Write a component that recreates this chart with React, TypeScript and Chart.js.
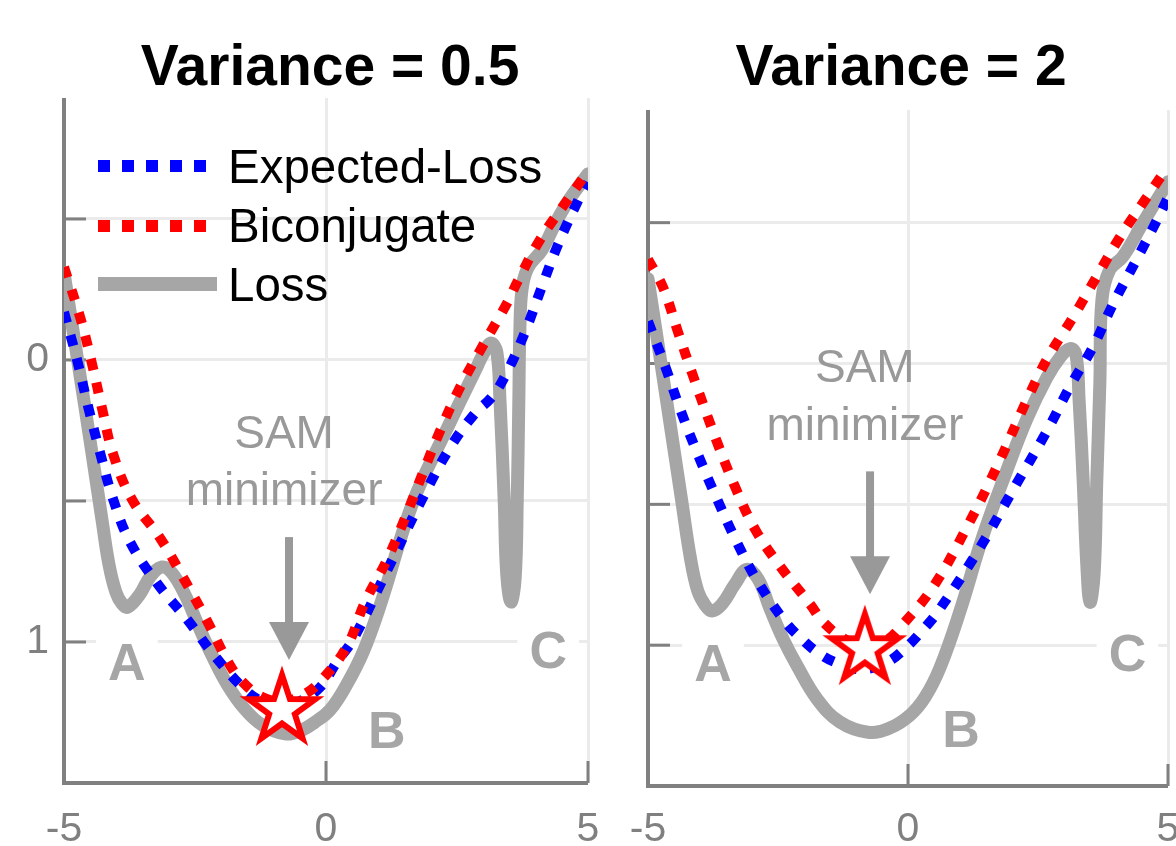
import React, { useEffect, useRef } from 'react';
import { Chart, registerables } from 'chart.js';

Chart.register(...registerables);

const FONT = '"Liberation Sans", Arial, Helvetica, sans-serif';
Chart.defaults.font.family = FONT;

// ---------- data ----------
const titles = ['Variance = 0.5', 'Variance = 2'];
const legendLabels = ['Expected-Loss', 'Biconjugate', 'Loss'];
const xTicks = [-5, 0, 5];
const xTickLabels = ['-5', '0', '5'];
const yTicks = [-0.5, 0, 0.5, 1];
const yTickLabels = ['', '0', '', '1'];
const regionLabels = ['A', 'B', 'C'];

// Variance = 0.5 panel
const lossX_a = [-5.0, -4.74, -4.475, -4.275, -4.14, -4.01, -3.89, -3.78, -3.55, -3.36, -3.13, -2.94, -2.69, -2.44, -2.18, -1.89, -1.55, -1.22, -0.78, -0.5, -0.21, 0.076, 0.38, 0.71, 1.03, 1.66, 2.27, 2.88, 3.02, 3.15, 3.26, 3.32, 3.4, 3.45, 3.53, 3.61, 3.65, 3.68, 3.7, 3.74, 3.85, 4.12, 4.41, 4.66, 5.0];
const lossY_a = [-0.309, 0.0, 0.319, 0.567, 0.727, 0.823, 0.865, 0.876, 0.83, 0.77, 0.734, 0.755, 0.833, 0.94, 1.046, 1.149, 1.238, 1.294, 1.326, 1.316, 1.284, 1.241, 1.156, 1.035, 0.872, 0.504, 0.259, 0.025, -0.028, -0.06, -0.028, 0.142, 0.496, 0.762, 0.858, 0.773, 0.496, 0.142, -0.106, -0.248, -0.326, -0.39, -0.496, -0.574, -0.66];
const expX_a = [-5.0, -4.75, -4.54, -4.31, -4.06, -3.74, -3.23, -2.65, -2.12, -1.51, -1.16, -0.84, -0.5, -0.11, 0.21, 0.52, 1.13, 1.83, 2.37, 2.84, 3.17, 3.45, 3.8, 4.12, 4.43, 4.81, 5.0];
const expY_a = [-0.17, 0.0, 0.165, 0.33, 0.495, 0.645, 0.79, 0.92, 1.05, 1.175, 1.215, 1.23, 1.21, 1.16, 1.07, 0.99, 0.76, 0.495, 0.31, 0.19, 0.13, 0.045, -0.1, -0.26, -0.41, -0.565, -0.63];
const biX_a = [-5.0, -4.69, -4.47, -4.27, -4.06, -3.7, -3.17, -2.73, -2.27, -1.87, -1.6, -1.22, -0.84, -0.46, -0.11, 0.4, 0.74, 1.16, 1.51, 1.85, 2.18, 2.56, 3.0, 3.45, 3.66, 4.08, 4.6, 5.0];
const biY_a = [-0.33, -0.15, 0.01, 0.175, 0.335, 0.495, 0.63, 0.77, 0.925, 1.07, 1.14, 1.195, 1.21, 1.19, 1.14, 1.015, 0.86, 0.71, 0.56, 0.4, 0.25, 0.096, -0.053, -0.2, -0.28, -0.425, -0.565, -0.67];

// Variance = 2 panel
const lossX_b = [-5.0, -4.75, -4.55, -4.356, -4.18, -4.04, -3.9, -3.77, -3.58, -3.33, -3.1, -2.88, -2.65, -2.4, -2.13, -1.75, -1.31, -0.77, -0.35, 0.04, 0.33, 0.62, 1.0, 1.44, 1.87, 2.29, 2.67, 2.92, 3.12, 3.23, 3.29, 3.37, 3.44, 3.5, 3.58, 3.63, 3.69, 3.73, 3.88, 4.13, 4.52, 5.0];
const lossY_b = [-0.301, 0.0, 0.245, 0.482, 0.695, 0.809, 0.858, 0.879, 0.855, 0.784, 0.731, 0.766, 0.872, 0.979, 1.074, 1.191, 1.273, 1.309, 1.294, 1.248, 1.184, 1.078, 0.879, 0.613, 0.394, 0.195, 0.05, -0.021, -0.053, -0.032, 0.128, 0.422, 0.72, 0.848, 0.745, 0.422, 0.067, -0.227, -0.333, -0.379, -0.5, -0.645];
const expX_b = [-5.0, -4.67, -4.38, -4.04, -3.67, -3.29, -2.88, -2.37, -2.04, -1.69, -1.31, -0.87, -0.4, -0.02, 0.29, 0.56, 1.33, 2.0, 2.67, 3.12, 3.56, 3.94, 4.37, 4.79, 5.0];
const expY_b = [-0.15, 0.01, 0.163, 0.323, 0.482, 0.635, 0.777, 0.915, 0.979, 1.032, 1.067, 1.085, 1.06, 1.005, 0.945, 0.885, 0.67, 0.455, 0.24, 0.08, -0.06, -0.21, -0.36, -0.51, -0.59];
const biX_b = [-5.0, -4.71, -4.42, -4.13, -3.67, -3.33, -2.94, -2.46, -1.88, -1.63, -1.21, -0.83, -0.44, -0.1, 0.48, 1.13, 1.73, 2.29, 2.69, 3.17, 3.63, 4.08, 4.6, 5.0];
const biY_b = [-0.37, -0.27, -0.11, 0.046, 0.28, 0.436, 0.589, 0.72, 0.855, 0.918, 0.979, 1.004, 0.986, 0.926, 0.794, 0.582, 0.358, 0.128, -0.021, -0.163, -0.309, -0.45, -0.592, -0.7];

// annotations (data coordinates), one entry per panel
const starX = [-0.84, -0.83];
const starY = [1.241, 1.014];
const arrowX = [-0.706, -0.73];
const arrowTopY = [0.628, 0.383];
const arrowTipY = [1.064, 0.819];
const samX = [-0.8, -0.83];
const samY = [0.312, 0.067];
const minimizerY = [0.514, 0.27];
const regionX_a = [-3.8, 1.16, 4.24];
const regionY_a = [1.135, 1.376, 1.092];
const regionX_b = [-3.75, 1.02, 4.22];
const regionY_b = [1.128, 1.362, 1.092];
const yMin = [-0.929, -0.9];
const yMax = 1.5;

// ---------- styles ----------
const BLUE = '#0000ff';
const RED = '#ff0000';
const LOSS = '#a6a6a6';
const GRID = '#ebebeb';
const AXIS = '#808080';
const ANNOT = '#999999';
const REGION = '#a6a6a6';

const pts = (xs: number[], ys: number[]) => xs.map((x, i) => ({ x, y: ys[i] }));

function makeStar(): HTMLCanvasElement {
  const c = document.createElement('canvas');
  c.width = 110;
  c.height = 110;
  const g = c.getContext('2d')!;
  const R = 35;
  const r = 13.5;
  g.beginPath();
  for (let i = 0; i < 10; i++) {
    const ang = -Math.PI / 2 + (i * Math.PI) / 5;
    const rad = i % 2 === 0 ? R : r;
    const px = 55 + rad * Math.cos(ang);
    const py = 55 + rad * Math.sin(ang);
    if (i === 0) g.moveTo(px, py);
    else g.lineTo(px, py);
  }
  g.closePath();
  g.fillStyle = '#ffffff';
  g.fill();
  g.lineWidth = 6;
  g.lineJoin = 'miter';
  g.miterLimit = 10;
  g.strokeStyle = RED;
  g.stroke();
  return c;
}

interface PanelSpec {
  idx: number;
  loss: { x: number; y: number }[];
  exp: { x: number; y: number }[];
  bi: { x: number; y: number }[];
  regionX: number[];
  regionY: number[];
  yAxisWidth: number;
  xAxisHeight: number;
  padRight: number;
  padTop: number;
  xLabelPad: number;
  showYLabels: boolean;
  titleX: number;
  showLegend: boolean;
}

function decorPlugin(p: PanelSpec) {
  return {
    id: 'decor' + p.idx,
    beforeDatasetsDraw(chart: any) {
      const { ctx, chartArea: a } = chart;
      const xs = chart.scales.x;
      const ys = chart.scales.y;
      ctx.save();
      ctx.strokeStyle = AXIS;
      ctx.lineWidth = 4;
      ctx.lineJoin = 'miter';
      ctx.beginPath();
      ctx.moveTo(a.left, a.top);
      ctx.lineTo(a.left, a.bottom);
      ctx.lineTo(a.right, a.bottom);
      ctx.stroke();
      ctx.lineWidth = 3;
      for (const v of yTicks) {
        const py = ys.getPixelForValue(v);
        ctx.beginPath();
        ctx.moveTo(a.left, py);
        ctx.lineTo(a.left + 22, py);
        ctx.stroke();
      }
      for (const v of xTicks) {
        const px = xs.getPixelForValue(v);
        ctx.beginPath();
        ctx.moveTo(px, a.bottom);
        ctx.lineTo(px, a.bottom - 22);
        ctx.stroke();
      }
      ctx.font = `bold 52px ${FONT}`;
      ctx.textAlign = 'center';
      ctx.textBaseline = 'alphabetic';
      regionLabels.forEach((t, i) => {
        const px = xs.getPixelForValue(p.regionX[i]);
        const py = ys.getPixelForValue(p.regionY[i]);
        const w = ctx.measureText(t).width + 24;
        ctx.fillStyle = '#ffffff';
        ctx.fillRect(px - w / 2, py - 46, w, 54);
        ctx.fillStyle = REGION;
        ctx.fillText(t, px, py);
      });
      ctx.restore();
    },
    afterDatasetsDraw(chart: any) {
      const { ctx } = chart;
      const xs = chart.scales.x;
      const ys = chart.scales.y;
      const i = p.idx;
      ctx.save();
      const ax = xs.getPixelForValue(arrowX[i]);
      const ay0 = ys.getPixelForValue(arrowTopY[i]);
      const ay1 = ys.getPixelForValue(arrowTipY[i]);
      ctx.fillStyle = ANNOT;
      ctx.fillRect(ax - 4, ay0, 8, ay1 - ay0 - 36);
      ctx.beginPath();
      ctx.moveTo(ax - 20, ay1 - 38);
      ctx.lineTo(ax + 20, ay1 - 38);
      ctx.lineTo(ax, ay1);
      ctx.closePath();
      ctx.fill();
      ctx.font = `46px ${FONT}`;
      ctx.textAlign = 'center';
      ctx.textBaseline = 'alphabetic';
      const sx = xs.getPixelForValue(samX[i]);
      ctx.fillText('SAM', sx, ys.getPixelForValue(samY[i]));
      ctx.fillText('minimizer', sx, ys.getPixelForValue(minimizerY[i]));
      ctx.restore();
    },
    afterDraw(chart: any) {
      const { ctx } = chart;
      ctx.save();
      ctx.fillStyle = '#000000';
      ctx.font = `bold 57px ${FONT}`;
      ctx.textAlign = 'center';
      ctx.textBaseline = 'alphabetic';
      ctx.fillText(titles[p.idx], p.titleX, 85);
      if (p.showLegend) {
        const ds = chart.data.datasets;
        const items = [
          { d: ds[2], y: 166, x2: 206, w: 12, dash: [12, 12], text: legendLabels[0], base: 183 },
          { d: ds[1], y: 226, x2: 206, w: 12, dash: [12, 12], text: legendLabels[1], base: 242 },
          { d: ds[3], y: 284, x2: 217, w: 14, dash: [], text: legendLabels[2], base: 301 },
        ];
        ctx.font = `47.5px ${FONT}`;
        ctx.textAlign = 'left';
        for (const it of items) {
          ctx.strokeStyle = it.d.borderColor;
          ctx.lineWidth = it.w;
          ctx.lineCap = 'butt';
          ctx.setLineDash(it.dash);
          ctx.beginPath();
          ctx.moveTo(98, it.y);
          ctx.lineTo(it.x2, it.y);
          ctx.stroke();
          ctx.setLineDash([]);
          ctx.fillStyle = '#000000';
          ctx.fillText(it.text, 228, it.base);
        }
      }
      ctx.restore();
    },
  };
}

function buildConfig(p: PanelSpec, starImg: HTMLCanvasElement): any {
  const curve = {
    pointRadius: 0,
    fill: false,
    tension: 0.4,
  };
  return {
    type: 'line',
    data: {
      datasets: [
        {
          label: 'SAM',
          data: [{ x: starX[p.idx], y: starY[p.idx] }],
          showLine: false,
          pointStyle: starImg,
          pointRadius: 5,
          order: 0,
        },
        {
          ...curve,
          label: legendLabels[1],
          data: p.bi,
          borderColor: RED,
          borderWidth: 10,
          borderDash: [11, 13],
          borderCapStyle: 'butt',
          order: 1,
        },
        {
          ...curve,
          label: legendLabels[0],
          data: p.exp,
          borderColor: BLUE,
          borderWidth: 10,
          borderDash: [11, 13],
          borderCapStyle: 'butt',
          order: 2,
        },
        {
          ...curve,
          label: legendLabels[2],
          data: p.loss,
          borderColor: LOSS,
          borderWidth: 13,
          borderJoinStyle: 'round',
          borderCapStyle: 'round',
          order: 3,
        },
      ],
    },
    options: {
      responsive: false,
      maintainAspectRatio: false,
      animation: false,
      events: [],
      layout: { padding: { left: 0, right: p.padRight, top: p.padTop, bottom: 0 } },
      plugins: { legend: { display: false }, tooltip: { enabled: false }, title: { display: false } },
      scales: {
        x: {
          type: 'linear',
          min: -5,
          max: 5,
          afterBuildTicks: (s: any) => {
            s.ticks = xTicks.map((v) => ({ value: v }));
          },
          afterFit: (s: any) => {
            s.height = p.xAxisHeight;
            s.paddingLeft = 0;
            s.paddingRight = 0;
          },
          grid: { color: GRID, lineWidth: 3, drawTicks: false },
          border: { display: false },
          ticks: {
            color: AXIS,
            font: { size: 41, family: FONT },
            padding: p.xLabelPad,
            autoSkip: false,
            maxRotation: 0,
            callback: (v: number) => {
              const k = xTicks.indexOf(v);
              return k >= 0 ? xTickLabels[k] : '';
            },
          },
        },
        y: {
          type: 'linear',
          reverse: true,
          min: yMin[p.idx],
          max: yMax,
          afterBuildTicks: (s: any) => {
            s.ticks = yTicks.map((v) => ({ value: v }));
          },
          afterFit: (s: any) => {
            s.width = p.yAxisWidth;
            s.paddingTop = 0;
            s.paddingBottom = 0;
          },
          grid: { color: GRID, lineWidth: 3, drawTicks: false },
          border: { display: false },
          ticks: {
            display: p.showYLabels,
            color: AXIS,
            font: { size: 41, family: FONT },
            padding: 15,
            callback: (v: number) => {
              const k = yTicks.indexOf(v);
              return k >= 0 ? yTickLabels[k] : '';
            },
          },
        },
      },
    },
    plugins: [decorPlugin(p)],
  };
}

const panels: PanelSpec[] = [
  {
    idx: 0,
    loss: pts(lossX_a, lossY_a),
    exp: pts(expX_a, expY_a),
    bi: pts(biX_a, biY_a),
    regionX: regionX_a,
    regionY: regionY_a,
    yAxisWidth: 64,
    xAxisHeight: 63,
    padRight: 32,
    padTop: 98,
    xLabelPad: 22,
    showYLabels: true,
    titleX: 330,
    showLegend: true,
  },
  {
    idx: 1,
    loss: pts(lossX_b, lossY_b),
    exp: pts(expX_b, expY_b),
    bi: pts(biX_b, biY_b),
    regionX: regionX_b,
    regionY: regionY_b,
    yAxisWidth: 28,
    xAxisHeight: 60,
    padRight: 8,
    padTop: 110,
    xLabelPad: 19,
    showYLabels: false,
    titleX: 281,
    showLegend: false,
  },
];

export default function App() {
  const leftRef = useRef<HTMLCanvasElement>(null);
  const rightRef = useRef<HTMLCanvasElement>(null);

  useEffect(() => {
    const star = makeStar();
    const charts: Chart[] = [];
    [leftRef.current, rightRef.current].forEach((cv, i) => {
      if (cv) charts.push(new Chart(cv, buildConfig(panels[i], star)));
    });
    return () => charts.forEach((c) => c.destroy());
  }, []);

  return (
    <div style={{ position: 'fixed', left: 0, top: 0, width: 1176, height: 846, background: '#ffffff', overflow: 'hidden' }}>
      <canvas ref={leftRef} width={620} height={846} style={{ position: 'absolute', left: 0, top: 0, width: 620, height: 846 }} />
      <canvas ref={rightRef} width={556} height={846} style={{ position: 'absolute', left: 620, top: 0, width: 556, height: 846 }} />
    </div>
  );
}
